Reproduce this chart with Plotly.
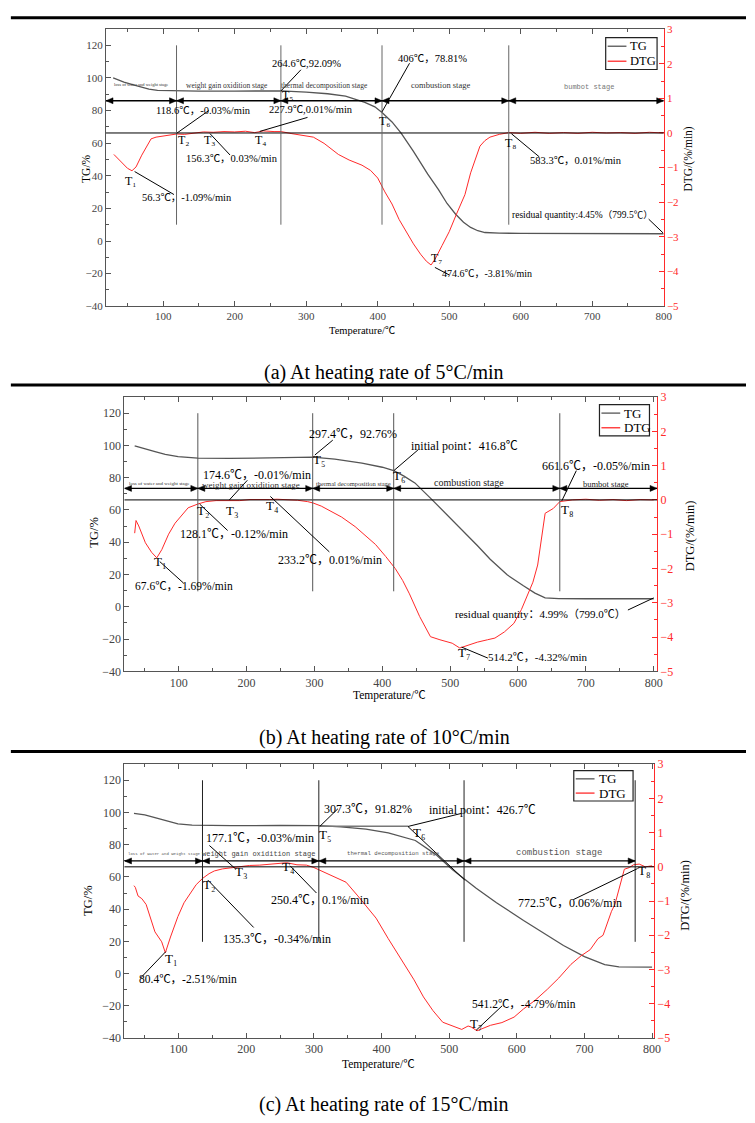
import plotly.graph_objects as go

SERIF = "Liberation Serif, Times New Roman, Noto Sans CJK SC, serif"
MONO = "Liberation Mono, DejaVu Sans Mono, monospace"
W, H = 755, 1123
TGC = "#555555"
RED = "#ff2a2a"
AXC = "#555555"
SUB = "₀₁₂₃₄₅₆₇₈₉"

# ---------------- data ----------------
# (a) 5 C/min
tg_a_T = [30, 45, 64.6, 80, 92, 118.6, 150, 200, 250, 264.6, 300, 330, 355, 382, 396, 406, 420, 433, 450, 470,
          485, 497, 509, 520, 530, 540, 550, 570, 600, 700, 800]
tg_a_V = [100, 97.5, 95, 93.2, 92.4, 92.0, 91.9, 91.9, 92.0, 92.09, 91.3, 90.3, 88.9, 85.0, 82.3, 78.81, 73, 66, 55, 41,
          31.5, 23, 16.4, 11.5, 8.3, 6.3, 5.2, 4.8, 4.7, 4.55, 4.45]
dtg_a_T = [31, 40, 50, 56.3, 62, 70, 83, 90, 100, 110, 118.6, 130, 140, 156.3, 170, 185, 200, 215, 227.9, 240,
           255, 265, 280, 295, 310, 325, 345, 360, 378, 390, 400, 410, 420, 430, 440, 450, 460, 468, 474.6, 480,
           490, 500, 510, 522, 530, 537, 543, 550, 557, 570, 583.3, 600, 620, 640, 660, 680, 700, 720, 740, 760,
           780, 800]
dtg_a_V = [-0.62, -0.82, -1.02, -1.09, -0.98, -0.64, -0.17, -0.12, -0.09, -0.06, -0.03, -0.04, -0.01, 0.03, 0.02,
           0.04, 0.03, 0.05, 0.01, 0.06, 0.04, 0.04, -0.02, -0.07, -0.12, -0.3, -0.62, -0.78, -0.93, -1.08,
           -1.3, -1.7, -2.05, -2.5, -2.85, -3.2, -3.5, -3.7, -3.81, -3.65, -3.25, -2.85, -2.35, -1.78, -1.15,
           -0.75, -0.38, -0.22, -0.12, -0.04, 0.01, -0.01, 0.02, -0.01, 0.01, -0.01, 0.02, 0.0, 0.01, -0.01,
           0.02, 0.0]

# (b) 10 C/min
tg_b_T = [35, 50, 65, 80, 99, 128.1, 175, 233, 297.4, 330, 370, 400, 416.8, 432, 448, 472.8, 500, 521, 540, 559,
          584, 608, 625, 640, 660, 700, 800]
tg_b_V = [99.8, 98.2, 96.2, 94.5, 93.1, 92.2, 92.0, 92.3, 92.76, 91.5, 89.0, 86.5, 84.4, 81.0, 76.8, 66.6, 55.2,
          46.2, 38.0, 29.5, 19.8, 13.0, 8.5, 5.5, 5.05, 5.0, 4.99]
dtg_b_T = [35, 37, 41, 50.8, 60, 67.6, 75, 85, 94.5, 105, 113.8, 128.1, 140, 155, 174.6, 190, 205, 220, 233.2, 245,
           260, 275, 290, 298, 310, 322, 340, 360, 376, 390, 405, 419, 430, 440, 455, 471, 485, 503, 514.2, 525,
           540, 555, 566, 580, 594, 605, 615, 622, 629, 636, 640, 652, 661.6, 680, 700, 720, 740, 760, 780, 800]
dtg_b_V = [-0.97, -0.6, -0.76, -1.25, -1.53, -1.69, -1.45, -1.0, -0.68, -0.42, -0.23, -0.12, -0.05, -0.02, -0.01,
           -0.02, 0.01, 0.0, 0.01, 0.02, 0.01, -0.01, -0.05, -0.09, -0.18, -0.3, -0.5, -0.78, -1.05, -1.3,
           -1.65, -2.0, -2.35, -2.74, -3.4, -3.99, -4.08, -4.18, -4.32, -4.25, -4.15, -4.08, -4.03, -3.85, -3.6,
           -3.2, -2.74, -2.4, -1.9, -0.9, -0.39, -0.25, -0.05, 0.0, 0.02, -0.01, 0.01, -0.02, 0.01, 0.0]

# (c) 15 C/min
tg_c_T = [34, 50, 65, 80, 99, 120, 135.3, 177.1, 250.4, 307.3, 340, 377, 410, 450, 480, 505, 540, 570, 610, 640,
          669, 700, 730, 751, 770, 800]
tg_c_V = [99.4, 98.5, 96.8, 95.0, 92.9, 92.1, 91.9, 91.8, 91.9, 91.82, 91.0, 89.7, 87.3, 82.6, 74.0, 64.5, 53.0,
          44.0, 32.9, 25.0, 17.4, 10.5, 5.5, 4.1, 4.0, 4.0]
dtg_c_T = [34, 36, 40, 45.6, 52, 58, 65, 75, 80.4, 88, 96, 99, 108, 118.6, 126, 135.3, 145, 152.8, 165, 177.1,
           190, 205, 220, 235, 250.4, 260, 275, 289, 300, 313.5, 330, 347.6, 365, 380, 392, 410, 434, 448, 462, 476,
           490.5, 505, 518.6, 528, 532.6, 541.2, 550, 561, 578, 596, 610, 627, 645, 662, 680, 695, 708.5, 720,
           727.5, 740, 745, 752, 759, 766.5, 772.5, 781, 790, 800]
dtg_c_V = [-0.55, -0.6, -0.85, -0.93, -1.1, -1.45, -1.9, -2.19, -2.51, -2.05, -1.6, -1.45, -1.05, -0.74, -0.52,
           -0.34, -0.2, -0.12, -0.06, -0.03, 0.0, 0.04, 0.05, 0.07, 0.1, 0.12, 0.06, 0.05, -0.02, -0.14,
           -0.3, -0.45, -0.85, -1.2, -1.5, -2.1, -2.85, -3.3, -3.8, -4.2, -4.54, -4.65, -4.75, -4.65, -4.68,
           -4.79, -4.72, -4.63, -4.55, -4.39, -4.15, -3.9, -3.58, -3.25, -2.85, -2.6, -2.42, -2.1, -2.0, -1.3,
           -1.1, -0.55, -0.07, -0.02, 0.06, 0.08, 0.0, 0.03]

captions = ["(a) At heating rate of 5°C/min", "(b) At heating rate of 10°C/min", "(c) At heating rate of 15°C/min"]
series_names = ["TG", "DTG"]
bounds_a = [20, 118.6, 264.6, 406, 583.3, 800]
bounds_b = [20, 128.1, 297.4, 416.8, 661.6, 805]
bounds_c = [20, 135.3, 307.3, 522, 775]

# ---------------- figure ----------------
fig = go.Figure()
annots = []
shapes = []


def px_x(p):
    return p / W


def px_y(p):
    return 1 - p / H


def txt(xa, ya, x, y, text, size, color="black", family=SERIF, angle=0, xanchor="center"):
    annots.append(dict(xref=xa, yref=ya, x=x, y=y, text=text, showarrow=False, textangle=angle,
                       font=dict(family=family, size=size, color=color), xanchor=xanchor, yanchor="middle"))


def tlabel(xa, ya, x, y, n, size):
    txt(xa, ya, x, y, "T" + SUB[n], size)


def seg(xa, ya, x0, y0, x1, y1, color="black", width=1):
    shapes.append(dict(type="line", xref=xa, yref=ya, x0=x0, y0=y0, x1=x1, y1=y1,
                       line=dict(color=color, width=width)))


def head(xa, ya, x, y, path):
    shapes.append(dict(type="path", xref=xa, yref=ya, xsizemode="pixel", ysizemode="pixel", xanchor=x, yanchor=y,
                       path=path, fillcolor="black", line=dict(color="black", width=0.5)))


def arrow(xa, ya, x0, x1, y):
    seg(xa, ya, x0, y, x1, y, width=1.3)
    head(xa, ya, x1, y, "M 0 0 L -7 -3 L -7 3 Z")
    head(xa, ya, x0, y, "M 0 0 L 7 -3 L 7 3 Z")


def legend_box(L, T, R, B, fs):
    shapes.append(dict(type="rect", xref="paper", yref="paper", x0=px_x(L), x1=px_x(R), y0=px_y(B), y1=px_y(T),
                       line=dict(color="#222222", width=1.2), fillcolor="white", layer="above"))
    rows = [T + (B - T) * 0.27, T + (B - T) * 0.74]
    for name, col, ry in zip(series_names, [TGC, RED], rows):
        shapes.append(dict(type="line", xref="paper", yref="paper", x0=px_x(L + 2), x1=px_x(L + 21),
                           y0=px_y(ry), y1=px_y(ry), line=dict(color=col, width=1.3), layer="above"))
        txt("paper", "paper", px_x(L + 23), px_y(ry), name, fs, "black", SERIF, xanchor="left")


panels = [
    dict(xa="x", ya="y", y2="y2", tgT=tg_a_T, tgV=tg_a_V, dT=dtg_a_T, dV=dtg_a_V,
         xdom=[107.3, 671.7], ydom=[22.3, 303], xr=[20, 800], fs=11),
    dict(xa="x2", ya="y3", y2="y4", tgT=tg_b_T, tgV=tg_b_V, dT=dtg_b_T, dV=dtg_b_V,
         xdom=[126, 665], ydom=[395, 672.7], xr=[20, 805], fs=12),
    dict(xa="x3", ya="y5", y2="y6", tgT=tg_c_T, tgV=tg_c_V, dT=dtg_c_T, dV=dtg_c_V,
         xdom=[126, 662], ydom=[766.7, 1044], xr=[20, 803], fs=12),
]

layout_axes = {}
for i, p in enumerate(panels):
    fig.add_trace(go.Scatter(x=p["tgT"], y=p["tgV"], mode="lines", name=series_names[0], showlegend=False,
                             line=dict(color=TGC, width=1.3), xaxis=p["xa"], yaxis=p["ya"]))
    fig.add_trace(go.Scatter(x=p["dT"], y=p["dV"], mode="lines", name=series_names[1], showlegend=False,
                             line=dict(color=RED, width=1), xaxis=p["xa"], yaxis=p["y2"]))
    xkey = "xaxis" if i == 0 else f"xaxis{i + 1}"
    ykey = "yaxis" if i == 0 else f"yaxis{2 * i + 1}"
    y2key = f"yaxis{2 * i + 2}"
    xd = [px_x(p["xdom"][0]), px_x(p["xdom"][1])]
    yd = [px_y(p["ydom"][1]), px_y(p["ydom"][0])]
    tf = dict(family=SERIF, size=p["fs"], color="#444444")
    layout_axes[xkey] = dict(domain=xd, range=p["xr"], anchor=p["ya"], showline=True, linecolor=AXC, linewidth=1,
                             mirror="ticks", ticks="inside", ticklen=5, tickcolor=AXC, tick0=0, dtick=100,
                             minor=dict(dtick=50, ticks="inside", ticklen=3, tickcolor=AXC),
                             showgrid=False, zeroline=False, tickfont=tf)
    layout_axes[ykey] = dict(domain=yd, range=[-40, 130], anchor=p["xa"], showline=True, linecolor=AXC,
                             linewidth=1, ticks="inside", ticklen=5, tickcolor=AXC, tick0=0, dtick=20,
                             minor=dict(dtick=10, ticks="inside", ticklen=3, tickcolor=AXC),
                             showgrid=False, zeroline=False, tickfont=tf)
    layout_axes[y2key] = dict(range=[-5, 3], overlaying=p["ya"], side="right", anchor=p["xa"], showline=True,
                              linecolor=RED, linewidth=1, ticks="inside", ticklen=5, tickcolor=RED, tick0=0,
                              dtick=1, minor=dict(dtick=0.5, ticks="inside", ticklen=3, tickcolor=RED),
                              showgrid=False, zeroline=False,
                              tickfont=dict(family=SERIF, size=p["fs"], color=RED))
    shapes.append(dict(type="line", xref=f"{p['xa']} domain", yref=p["y2"], x0=0, x1=1, y0=0, y1=0,
                       line=dict(color="black", width=1)))

# ---- panel (a) decorations ----
xa, ya = "x", "y"
for b in bounds_a[1:-1]:
    seg(xa, ya, b, 10, b, 120, color="#666666")
for x0, x1 in zip(bounds_a[:-1], bounds_a[1:]):
    arrow(xa, ya, x0, x1, 86)
for l in [(264.6, 92, 292.6, 105), (118.6, 66, 163.7, 80), (235, 67.2, 301.8, 75.8), (165.5, 65.8, 193.5, 52.7),
          (60, 42.6, 115, 28.5), (406, 79.2, 444.5, 109), (587, 65.8, 626, 51.6), (779, 13.4, 799, 5),
          (480, -16.2, 500, -20.8)]:
    seg(xa, ya, *l)
for x, y, t, s in [(300.6, 108.6, "264.6℃,92.09%", 10.5), (155.8, 80.3, "118.6℃，-0.03%/min", 10.5),
                   (306, 80.9, "227.9℃,0.01%/min", 10.5), (196, 50.3, "156.3℃，0.03%/min", 10.5),
                   (133.7, 26.5, "56.3℃，-1.09%/min", 10.5), (476.7, 111.7, "406℃，78.81%", 10.5),
                   (677, 49.6, "583.3℃，0.01%/min", 10.5), (686, 16, "residual quantity:4.45%（799.5℃）", 9.5),
                   (553, -19.8, "474.6℃，-3.81%/min", 10)]:
    txt(xa, ya, x, y, t, s)
for x, y, n in [(55.4, 37, 1), (129, 61.7, 2), (166, 61.7, 3), (237, 61.7, 4), (274, 89.3, 5), (410, 73.8, 6),
                (483, -10.3, 7), (587, 60.3, 8)]:
    tlabel(xa, ya, x, y, n, 12)
txt(xa, ya, 69, 96, "loss of water and weight stage", 4.5, "#333333")
txt(xa, ya, 189, 95.4, "weight gain oxidition stage", 7.5, "#333333")
txt(xa, ya, 325, 95.4, "thermal decomposition stage", 7.5, "#333333")
txt(xa, ya, 488, 95.5, "combustion stage", 8.5, "#333333")
txt(xa, ya, 695.5, 94.5, "bumbot stage", 7, "#777777", MONO)

# ---- panel (b) decorations ----
xa, ya = "x2", "y3"
for b in bounds_b[1:-1]:
    seg(xa, ya, b, 9.6, b, 120, color="#555555")
for x0, x1 in zip(bounds_b[:-1], bounds_b[1:]):
    arrow(xa, ya, x0, x1, 73.4)
for l in [(300.6, 94.1, 327, 103.3), (417, 84.4, 452.5, 97.2), (174.5, 66.2, 201, 78.4), (130.9, 63.6, 172, 47.3),
          (235, 68.4, 322, 34), (72, 28, 107, 14.7), (762, -2, 800, 5.5), (517, -25, 555.6, -31.8),
          (664.5, 65.6, 686, 84.4)]:
    seg(xa, ya, *l)
for x, y, t, s in [(357, 107, "297.4℃，92.76%", 12), (521, 99.6, "initial point：416.8℃", 12),
                   (215.7, 81.9, "174.6℃，-0.01%/min", 12), (181.8, 45.2, "128.1℃，-0.12%/min", 12),
                   (323.5, 28.9, "233.2℃，0.01%/min", 12), (107, 13, "67.6℃，-1.69%/min", 11.5),
                   (633, -4.7, "residual quantity：4.99%（799.0℃）", 11), (629, -31.2, "514.2℃，-4.32%/min", 11),
                   (715, 87, "661.6℃，-0.05%/min", 12)]:
    txt(xa, ya, x, y, t, s)
for x, y, n in [(72.6, 27.9, 1), (135.7, 59.5, 2), (179, 59.5, 3), (237.5, 62.5, 4), (307, 91, 5), (424, 81.5, 6),
                (520.5, -28.1, 7), (672, 60.5, 8)]:
    tlabel(xa, ya, x, y, n, 13)
txt(xa, ya, 71.6, 76.4, "loss of water and weight stage", 5, "#333333")
txt(xa, ya, 207, 75.6, "weight gain oxidition stage", 9, "#333333")
txt(xa, ya, 357, 76.4, "thermal decomposition stage", 6.5, "#333333")
txt(xa, ya, 528, 76.8, "combustion stage", 10, "#222222")
txt(xa, ya, 729, 76.4, "bumbot stage", 8.5, "#222222")

# ---- panel (c) decorations ----
xa, ya = "x3", "y5"
for b in bounds_c[1:]:
    seg(xa, ya, b, 19.7, b, 120, color="#222222")
for x0, x1 in zip(bounds_c[:-1], bounds_c[1:]):
    arrow(xa, ya, x0, x1, 69.9)
seg(xa, ya, 307.3, 91.5, 439, 91.5, color="#777777", width=1.5)
seg(xa, ya, 439, 91.3, 523, 58.1)
for l in [(308.6, 91.3, 335.5, 102.3), (439, 91.3, 518, 99.4), (145.5, 79.5, 184.4, 64.9),
          (264.8, 66.9, 303.8, 50), (143, 58.1, 211, 28.6), (81, 13.6, 43.7, -2.8), (539.7, -35.3, 578.4, -20),
          (683.6, 45.9, 778.6, 65.2)]:
    seg(xa, ya, *l)
for x, y, t, s in [(380, 102.3, "307.3℃，91.82%", 12), (549.7, 101.5, "initial point：426.7℃", 12),
                   (221, 84.2, "177.1℃，-0.03%/min", 12), (308.6, 45.9, "250.4℃，0.1%/min", 12),
                   (245, 21.5, "135.3℃，-0.34%/min", 12), (114, -3.2, "80.4℃，-2.51%/min", 11.5),
                   (610, -19, "541.2℃，-4.79%/min", 11.5), (679, 43.9, "772.5℃，0.06%/min", 12)]:
    txt(xa, ya, x, y, t, s)
for x, y, n in [(89.4, 9.5, 1), (145.5, 55.1, 2), (191.7, 63.2, 3), (262.4, 66.3, 4), (316, 86.2, 5),
                (455, 87.6, 6), (539.7, -30.8, 7), (788, 64.2, 8)]:
    tlabel(xa, ya, x, y, n, 13)
txt(xa, ya, 79.8, 74.4, "loss of water and weight stage", 4, "#555555", MONO)
txt(xa, ya, 218.6, 74.2, "weight gain oxidition stage", 7, "#444444", MONO)
txt(xa, ya, 418, 74.8, "thermal decomposition stage", 5.7, "#555555", MONO)
txt(xa, ya, 662, 74.8, "combustion stage", 9, "#555555", MONO)

# ---- legends (drawn as boxes) ----
legend_box(613, 31, 665, 63.3, 12.5)
legend_box(606.7, 402.7, 657.3, 434.3, 13)
legend_box(580.7, 773.3, 640.7, 804, 13)

# ---- axis titles and captions (paper) ----
for (tx, ty, rx, ry, bx, by, fs) in [(87, 163, 696.7, 154, 367, 328, 10.5),
                                    (95.7, 531.7, 698.3, 535, 394, 696.7, 11.5),
                                    (88.3, 905, 693.3, 900, 383.5, 1071.3, 11.5)]:
    txt("paper", "paper", px_x(tx), px_y(ty), "TG/%", fs + 1, "black", SERIF, -90)
    txt("paper", "paper", px_x(rx), px_y(ry), "DTG/(%/min)", fs + 1, "black", SERIF, -90)
    txt("paper", "paper", px_x(bx), px_y(by), "Temperature/℃", fs, "black", SERIF)
for cap, cy in zip(captions, [370, 740, 1111]):
    txt("paper", "paper", px_x(389), px_y(cy), cap, 20, "black", SERIF)

for yy in [11, 382.7, 754]:
    shapes.append(dict(type="line", xref="paper", yref="paper", x0=px_x(11), x1=1, y0=px_y(yy), y1=px_y(yy),
                       line=dict(color="black", width=3)))

fig.update_layout(
    width=W, height=H, margin=dict(l=0, r=0, t=0, b=0), paper_bgcolor="white", plot_bgcolor="white",
    showlegend=False, annotations=annots, shapes=shapes, **layout_axes)

fig.write_html("out.html")
